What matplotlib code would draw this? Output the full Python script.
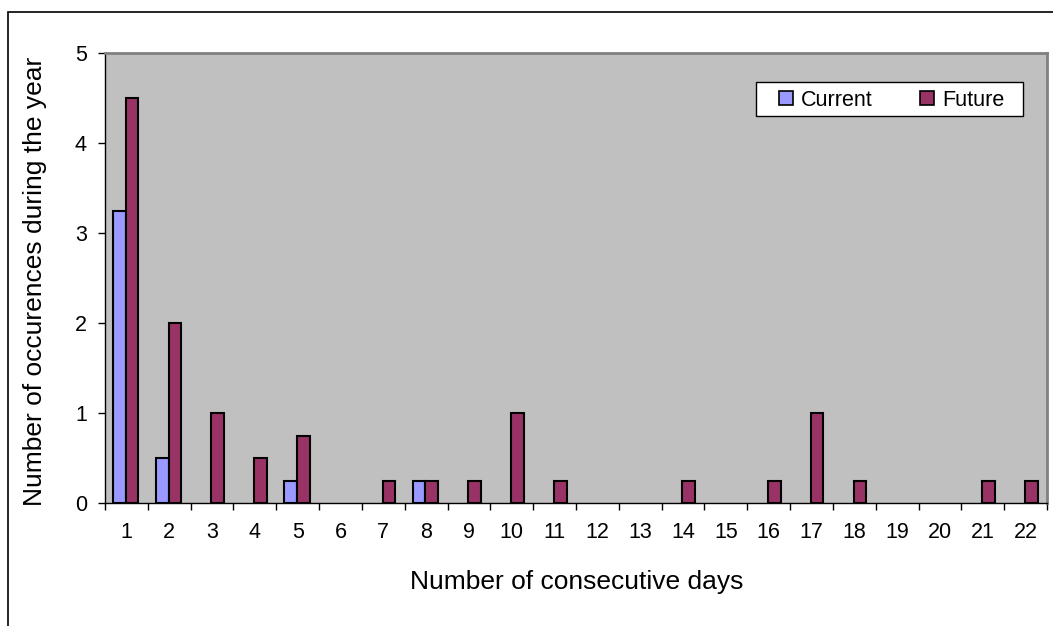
import matplotlib
matplotlib.use("Agg")
import matplotlib.pyplot as plt
from matplotlib.patches import Rectangle
import numpy as np

plt.rcParams['font.family'] = ['Liberation Sans', 'DejaVu Sans']

days = [1, 2, 3, 4, 5, 6, 7, 8, 9, 10, 11, 12, 13, 14, 15, 16, 17, 18, 19, 20, 21, 22]
current = [3.25, 0.5, 0, 0, 0.25, 0, 0, 0.25, 0, 0, 0, 0, 0, 0, 0, 0, 0, 0, 0, 0, 0, 0]
future = [4.5, 2, 1, 0.5, 0.75, 0, 0.25, 0.25, 0.25, 1, 0.25, 0, 0, 0.25, 0, 0.25, 1, 0.25, 0, 0, 0.25, 0.25]
series_names = ["Current", "Future"]
series_colors = ["#9999FF", "#993366"]
y_ticks = [0, 1, 2, 3, 4, 5]

W, H = 1053, 626
fig = plt.figure(figsize=(W / 100, H / 100), dpi=100)
fig.patch.set_facecolor("white")


def fx(px):
    return px / W


def fy(py):
    return 1 - py / H


# outer chart frame
fig.add_artist(Rectangle((fx(8), -0.1), 1.2, fy(12) + 0.1, transform=fig.transFigure,
                         fill=False, edgecolor="black", linewidth=1.2, clip_on=False))

ax = fig.add_axes([fx(105), fy(503), fx(942), 450 / H])
ax.set_facecolor("#C0C0C0")

n = len(days)
x = np.arange(n)
bw = 0.295
offsets = [-bw / 2 - 0.015, bw / 2 - 0.015]
for vals, off, col, name in zip([current, future], offsets, series_colors, series_names):
    vals = np.asarray(vals, dtype=float)
    keep = vals > 0
    ax.bar(x[keep] + off, vals[keep], width=bw, color=col, edgecolor="black",
           linewidth=1.5, label=name, zorder=3)

ax.set_xlim(-0.5, n - 0.5)
ax.set_ylim(0, 5)
ax.set_yticks(y_ticks)
ax.set_yticklabels([str(v) for v in y_ticks], fontsize=15.5)

ax.set_xticks(x)
ax.set_xticklabels([str(d) for d in days], fontsize=15.5)
ax.tick_params(axis="x", which="major", length=0, pad=14)
ax.set_xticks(np.arange(n + 1) - 0.5, minor=True)
ax.tick_params(axis="x", which="minor", length=5, width=1, direction="out", color="black")
ax.tick_params(axis="y", length=5, width=1, direction="out", pad=8)

for side in ["top", "right"]:
    ax.spines[side].set_color("#808080")
    ax.spines[side].set_linewidth(2)
for side in ["bottom", "left"]:
    ax.spines[side].set_color("black")
    ax.spines[side].set_linewidth(1)

# axis titles
fig.text(fx(577), fy(589), "Number of consecutive days", fontsize=19,
         ha="center", va="baseline")
fig.text(fx(42), fy(281), "Number of occurences during the year", fontsize=19,
         rotation=90, rotation_mode="anchor", ha="center", va="baseline")

# legend box
fig.add_artist(Rectangle((fx(756), fy(116)), fx(1023) - fx(756), fy(82) - fy(116),
                         transform=fig.transFigure, facecolor="white", edgecolor="black",
                         linewidth=1, zorder=5))
for mx, tx, col, name in zip([779, 920], [801, 942], series_colors, series_names):
    fig.add_artist(Rectangle((fx(mx), fy(105)), fx(14), 14 / H, transform=fig.transFigure,
                             facecolor=col, edgecolor="black", linewidth=1.2, zorder=6))
    fig.text(fx(tx), fy(98), name, fontsize=15.5, ha="left", va="center_baseline", zorder=6)

fig.savefig("out.png", dpi=100)
